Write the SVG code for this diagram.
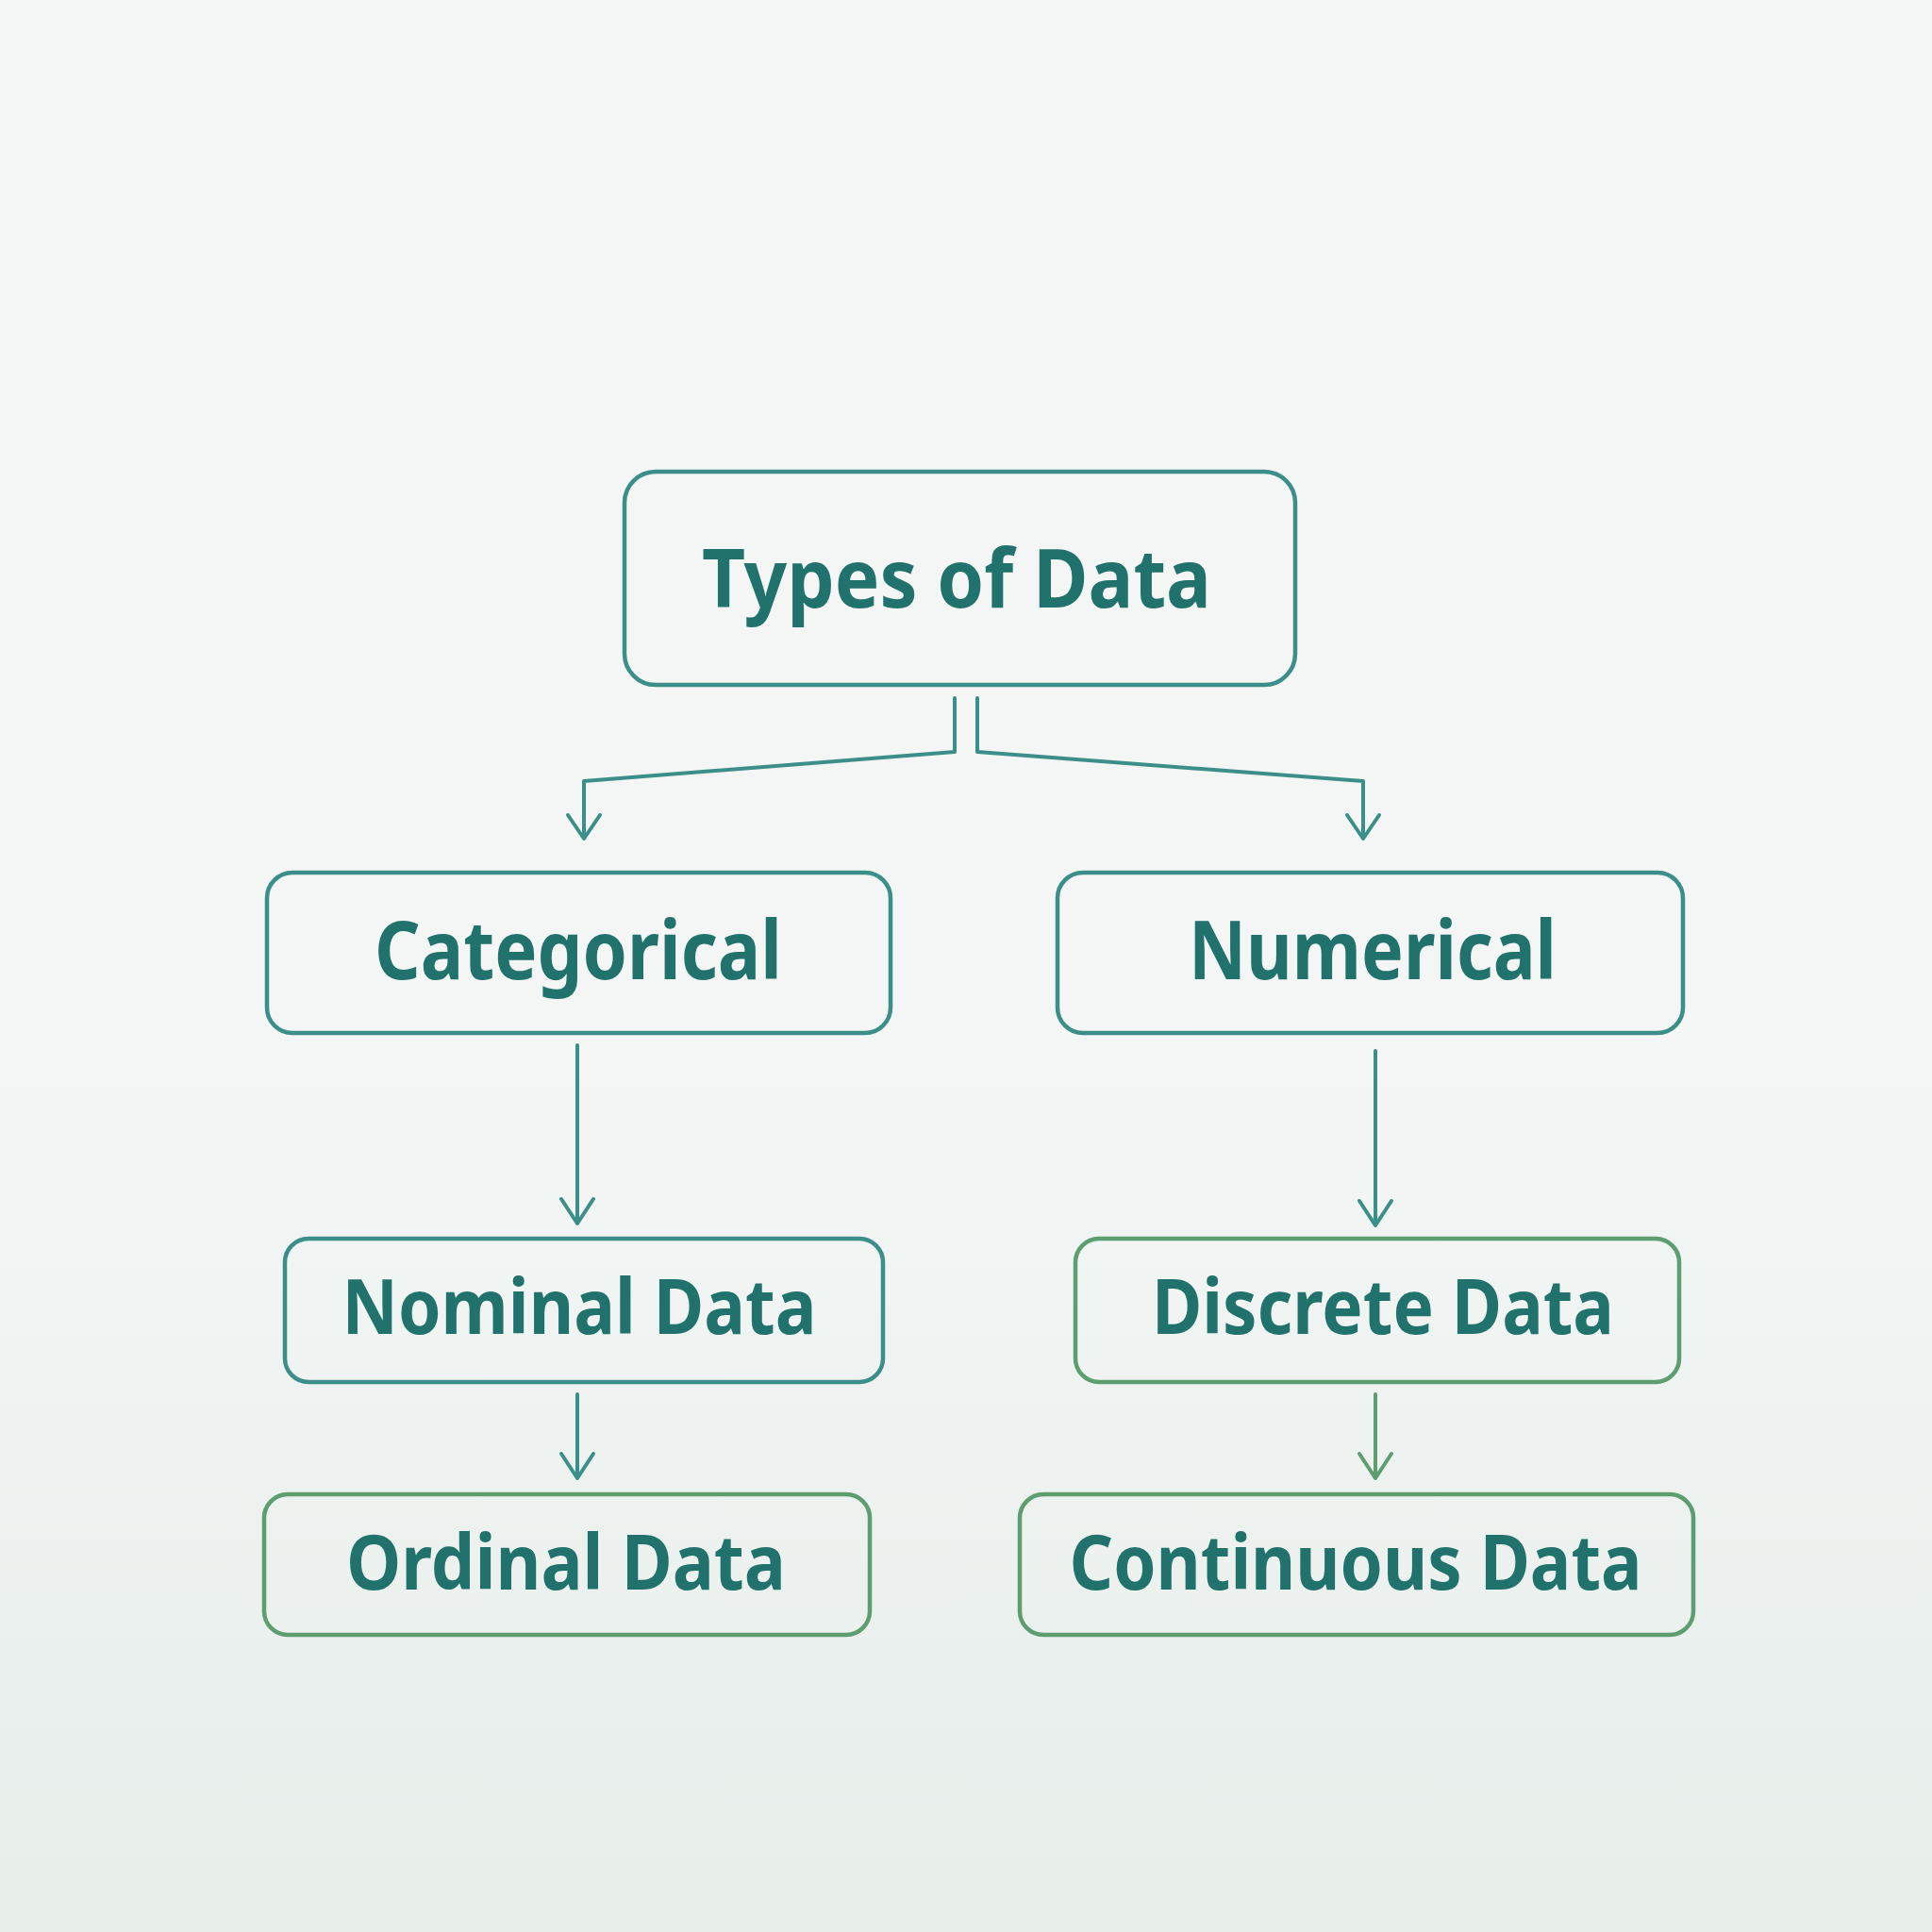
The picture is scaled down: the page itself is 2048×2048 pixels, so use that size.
<svg xmlns="http://www.w3.org/2000/svg" width="2048" height="2048" viewBox="0 0 2048 2048">
<defs>
<linearGradient id="bg" x1="0" y1="0" x2="0" y2="1">
<stop offset="0" stop-color="#f5f6f6"/>
<stop offset="0.55" stop-color="#f3f6f5"/>
<stop offset="1" stop-color="#e7eeea"/>
</linearGradient>
<style>
.box{fill:none;stroke-width:4.5}
.teal{stroke:#3b8e89}
.green{stroke:#5c9e6f}
.lbl{font-family:"Noto Sans","Open Sans",sans-serif;font-weight:700;fill:#21726c;text-anchor:middle}
.ln{fill:none;stroke-width:4;stroke-linecap:round;stroke-linejoin:round}
</style>
</defs>
<rect width="2048" height="2048" fill="url(#bg)"/>
<g id="connectors">
<path class="ln teal" d="M1012 740 V797 L619 828 V888"/>
<path class="ln teal" d="M602 864 L619 889 L636 864"/>
<path class="ln teal" d="M1036 740 V797 L1445 828 V888"/>
<path class="ln teal" d="M1428 864 L1445 889 L1462 864"/>
<path class="ln teal" d="M612 1108 V1296"/>
<path class="ln teal" d="M595 1271 L612 1297 L629 1271"/>
<path class="ln teal" d="M1458 1114 V1298"/>
<path class="ln teal" d="M1441 1273 L1458 1299 L1475 1273"/>
<path class="ln teal" d="M612 1478 V1566"/>
<path class="ln teal" d="M595 1541 L612 1567 L629 1541"/>
<path class="ln green" d="M1458 1478 V1566"/>
<path class="ln green" d="M1441 1541 L1458 1567 L1475 1541"/>
</g>
<g id="node-types">
<rect class="box teal" x="662" y="500" width="711" height="226" rx="33"/>
<text class="lbl" x="1014" y="644" font-size="86" textLength="540" lengthAdjust="spacingAndGlyphs">Types of Data</text>
</g>
<g id="node-categorical">
<rect class="box teal" x="283" y="925" width="661" height="170" rx="27"/>
<text class="lbl" x="613" y="1038" font-size="86" textLength="432" lengthAdjust="spacingAndGlyphs">Categorical</text>
</g>
<g id="node-numerical">
<rect class="box teal" x="1121" y="925" width="663" height="170" rx="27"/>
<text class="lbl" x="1455" y="1038" font-size="86" textLength="390" lengthAdjust="spacingAndGlyphs">Numerical</text>
</g>
<g id="node-nominal">
<rect class="box teal" x="302" y="1313" width="634" height="152" rx="25"/>
<text class="lbl" x="614" y="1414" font-size="80" textLength="503" lengthAdjust="spacingAndGlyphs">Nominal Data</text>
</g>
<g id="node-discrete">
<rect class="box green" x="1140" y="1313" width="640" height="152" rx="25"/>
<text class="lbl" x="1466" y="1414" font-size="80" textLength="490" lengthAdjust="spacingAndGlyphs">Discrete Data</text>
</g>
<g id="node-ordinal">
<rect class="box green" x="280" y="1584" width="642" height="149" rx="25"/>
<text class="lbl" x="600" y="1685" font-size="80" textLength="466" lengthAdjust="spacingAndGlyphs">Ordinal Data</text>
</g>
<g id="node-continuous">
<rect class="box green" x="1081" y="1584" width="714" height="149" rx="25"/>
<text class="lbl" x="1437" y="1685" font-size="80" textLength="607" lengthAdjust="spacingAndGlyphs">Continuous Data</text>
</g>
</svg>
